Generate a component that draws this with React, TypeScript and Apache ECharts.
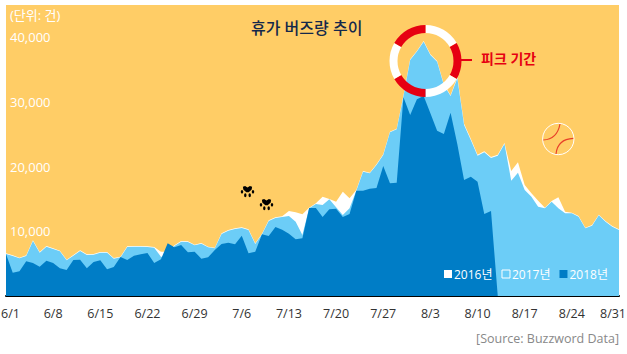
import React, { useEffect, useRef } from "react";
import * as echarts from "echarts";

const days: string[] = [];
for (const [m, n] of [[6, 30], [7, 31], [8, 31]]) for (let d = 1; d <= n; d++) days.push(`${m}/${d}`);

const s2016 = [6600, 6290, 5930, 6290, 8610, 6800, 7730, 7370, 7010, 5620, 6340, 7060, 6440, 6490, 6800, 6800, 5870, 6080, 7680, 7730, 7730, 7680, 7570, 6860, 6860, 7830, 8500, 8450, 7940, 8190, 7630, 7470, 9690, 10200, 10460, 10620, 10310, 8140, 9640, 11700, 12160, 12320, 13150, 12940, 12630, 13660, 14330, 15360, 15000, 14590, 16140, 15100, 16390, 19330, 19070, 20360, 21910, 25410, 25880, 31000, 36600, 37890, 39430, 37370, 36340, 32730, 31030, 33900, 26650, 24330, 21850, 22370, 21490, 21850, 23660, 19330, 20670, 17170, 15880, 14740, 13660, 14690, 15260, 13040, 12880, 12370, 10560, 10980, 12580, 11600, 10820, 10310];
const s2017 = [6500, 6190, 5830, 6190, 8510, 6700, 7630, 7270, 6910, 5520, 6240, 6960, 6340, 6390, 6700, 6700, 5770, 5980, 7580, 7630, 7630, 7580, 7470, 6080, 6000, 7730, 8400, 8350, 7840, 8090, 7530, 7370, 9590, 10100, 10360, 10520, 10210, 8040, 9540, 11600, 12060, 12220, 12370, 11500, 9430, 13560, 14230, 14070, 14950, 13710, 12530, 13560, 16290, 19230, 18970, 20260, 21810, 25310, 25780, 30900, 36500, 37790, 39330, 37270, 36240, 32630, 30930, 33660, 26450, 24130, 21700, 22220, 21340, 21700, 23510, 17840, 19070, 16390, 15360, 13820, 13560, 14590, 13560, 12780, 12780, 12270, 10460, 10880, 12480, 11500, 10720, 10210];
const s2018 = [6500, 3610, 3810, 5360, 5100, 4540, 5460, 5100, 4280, 4020, 5570, 5620, 4280, 5260, 5520, 4120, 4480, 6030, 5570, 6240, 6440, 6650, 5100, 5670, 8140, 7530, 7890, 6750, 6860, 5770, 5980, 7110, 8040, 8250, 7990, 9330, 6600, 6860, 9540, 9280, 10670, 10260, 9640, 8760, 8920, 13610, 13610, 12220, 13400, 13510, 12220, 12680, 16290, 16290, 16600, 16700, 20100, 17420, 17530, 30720, 27990, 30410, 30930, 28250, 25570, 25050, 28350, 23460, 17940, 18450, 17680, 12680, 13150, 0];

const seriesNames = ["2016년", "2017년", "2018년"];
const yTicks = [10000, 20000, 30000, 40000];

const font = '"Open Sans","Noto Sans CJK KR",sans-serif';
const YELLOW = "#FFCD66";
const LIGHT = "#6CCDF7";
const DARK = "#007DC6";
const RED = "#E60012";
const deg = (d: number) => (d * Math.PI) / 180;

const ringSeg = (a: number, b: number, fill: string) => ({
  type: "sector", z: 20,
  shape: { cx: 425.5, cy: 61, r0: 28, r: 36, startAngle: deg(a), endAngle: deg(b), clockwise: true },
  style: { fill },
});

const paw = (x: number, y: number) => ({
  type: "group", x, y, z: 20,
  children: [
    { type: "polygon", shape: { points: [[-4.6, -4.2], [-2.4, -5], [0, -3.4], [2.4, -5], [4.6, -4.2], [4.2, -1.4], [1.2, 1.2], [-1.2, 1.2], [-4.2, -1.4]] }, style: { fill: "#000" } },
    { type: "ellipse", shape: { cx: -5.5, cy: 0.8, rx: 1.2, ry: 1.8 }, style: { fill: "#000" } },
    { type: "ellipse", shape: { cx: 5.5, cy: 0.8, rx: 1.2, ry: 1.8 }, style: { fill: "#000" } },
    { type: "ellipse", shape: { cx: -2.2, cy: 4.2, rx: 1.2, ry: 2 }, style: { fill: "#000" } },
    { type: "ellipse", shape: { cx: 2.2, cy: 4.2, rx: 1.2, ry: 2 }, style: { fill: "#000" } },
  ],
});

const area = (name: string, data: number[], color: string, z: number) => ({
  name, type: "line", data, z, showSymbol: false, symbol: "none", smooth: false,
  lineStyle: { width: 0 }, itemStyle: { color }, areaStyle: { color, opacity: 1 },
});

export default function App() {
  const ref = useRef<HTMLDivElement>(null);
  useEffect(() => {
    document.body.style.margin = "0";
    const chart = echarts.init(ref.current!, null, { renderer: "svg" });
    chart.setOption({
      animation: false,
      backgroundColor: "#fff",
      textStyle: { fontFamily: font },
      grid: { left: 6, right: 8, top: 5, bottom: 58, show: true, backgroundColor: YELLOW, borderWidth: 0, outerBoundsMode: "none" },
      title: {
        text: "휴가 버즈량 추이", left: 251, top: 20, padding: 0, z: 20,
        textStyle: { fontFamily: font, fontSize: 16, fontWeight: 500, color: "#14284B" },
      },
      legend: {
        left: 444, top: 268, itemWidth: 8, itemHeight: 8, itemGap: 9, icon: "rect", padding: 0, z: 20,
        selectedMode: false,
        textStyle: { color: "#fff", fontSize: 12, fontFamily: font, padding: [1, 0, 0, -3] },
        data: [
          { name: seriesNames[0], itemStyle: { color: "#fff" } },
          { name: seriesNames[1], itemStyle: { color: "transparent", borderColor: "#fff", borderWidth: 1 } },
          { name: seriesNames[2], itemStyle: { color: DARK } },
        ],
      },
      xAxis: {
        type: "category", data: days, boundaryGap: false,
        axisLine: { lineStyle: { color: "#000", width: 2 } },
        axisTick: { show: false },
        axisLabel: {
          interval: 6, color: "#333", fontSize: 12.5, margin: 11, fontFamily: font, hideOverlap: false,
          formatter: (v: string) => (v === "6/1" ? `{a|${v}}` : v === "8/31" ? `{b|${v}}` : v),
          rich: {
            a: { padding: [0, 0, 0, 9], fontSize: 12.5, color: "#333", fontFamily: font },
            b: { padding: [0, 12, 0, 0], fontSize: 12.5, color: "#333", fontFamily: font },
          },
        },
      },
      yAxis: {
        type: "value", min: 0, max: 45000, interval: 10000,
        axisLine: { show: false }, axisTick: { show: false }, splitLine: { show: false },
        axisLabel: {
          inside: true, margin: 4, color: "#fff", fontSize: 13, fontFamily: font,
          formatter: (v: number) => (yTicks.includes(v) ? v.toLocaleString("en-US") : ""),
        },
        z: 10,
      },
      series: [
        area(seriesNames[0], s2016, "#fff", 2),
        area(seriesNames[1], s2017, LIGHT, 3),
        area(seriesNames[2], s2018, DARK, 4),
      ],
      graphic: [
        { type: "text", x: 10, y: 8, z: 20, style: { text: "(단위: 건)", fill: "#fff", fontSize: 13, fontFamily: font } },
        ringSeg(-90, -30, "#fff"), ringSeg(-30, 30, RED), ringSeg(30, 90, "#fff"),
        ringSeg(90, 150, RED), ringSeg(150, 210, "#fff"), ringSeg(210, 270, RED),
        { type: "line", z: 20, shape: { x1: 460, y1: 60, x2: 472, y2: 60 }, style: { stroke: RED, lineWidth: 2 } },
        { type: "text", x: 481, y: 51, z: 20, style: { text: "피크 기간", fill: RED, fontSize: 14, fontWeight: "bold", fontFamily: font } },
        { type: "circle", z: 20, shape: { cx: 558.3, cy: 139, r: 15.7 }, style: { fill: YELLOW, stroke: "#fff", lineWidth: 1 } },
        { type: "bezierCurve", z: 21, shape: { x1: 543.3, y1: 140, cpx1: 557, cpy1: 139.5, x2: 560, y2: 124 }, style: { stroke: "#E8402A", lineWidth: 1.2, fill: "none" } },
        { type: "bezierCurve", z: 21, shape: { x1: 556, y1: 154, cpx1: 557.5, cpy1: 139, x2: 573.3, y2: 138.3 }, style: { stroke: "#E8402A", lineWidth: 1.2, fill: "none" } },
        paw(247.5, 191), paw(266.5, 204),
        { type: "text", x: 619, y: 332, z: 20, style: { text: "[Source: Buzzword Data]", fill: "#888", fontSize: 12.5, fontFamily: font, align: "right" } },
      ],
    });
    return () => chart.dispose();
  }, []);
  return <div ref={ref} style={{ width: 627, height: 354 }} />;
}
